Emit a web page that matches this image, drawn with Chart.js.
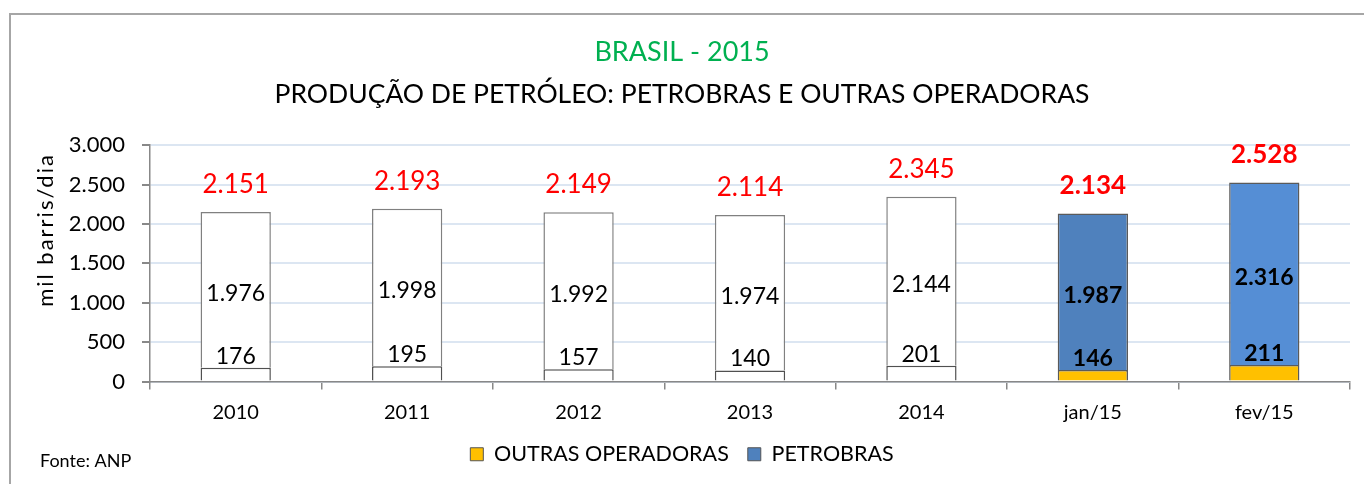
<!DOCTYPE html>
<html>
<head>
<meta charset="utf-8">
<script src="https://cdn.jsdelivr.net/npm/chart.js@4.4.1/dist/chart.umd.min.js"></script>
<style>
  html, body { margin: 0; padding: 0; background: #fff; }
  #wrap { position: relative; width: 1364px; height: 484px; overflow: hidden; }
  #frame { position: absolute; left: 9px; top: 13px; width: 1400px; height: 520px; border: 2px solid #a6a6a6; box-sizing: border-box; }
  canvas { position: absolute; left: 0; top: 0; }
</style>
</head>
<body>
<div id="wrap">
  <div id="frame"></div>
  <canvas id="chart" width="1364" height="484"></canvas>
</div>
<script>
'use strict';

// Data (mil barris/dia)
var categories = ['2010', '2011', '2012', '2013', '2014', 'jan/15', 'fev/15'];
var outras     = [176, 195, 157, 140, 201, 146, 211];
var petrobras  = [1976, 1998, 1992, 1974, 2144, 1987, 2316];
var totals     = [2151, 2193, 2149, 2114, 2345, 2134, 2528];
var yTicks     = [0, 500, 1000, 1500, 2000, 2500, 3000];


// Styles
var FONT = 'Lato';
var firstMonth = 5;   // bars from here on are coloured and labelled in bold
var outrasFill = ['#ffffff', '#ffffff', '#ffffff', '#ffffff', '#ffffff', '#ffc000', '#ffc000'];
var petroFill  = ['#ffffff', '#ffffff', '#ffffff', '#ffffff', '#ffffff', '#4f81bd', '#558ed5'];
var outrasLine = ['#505050', '#505050', '#505050', '#505050', '#505050', '#5a5a5a', '#5a5a5a'];
var petroLine  = ['#808080', '#808080', '#808080', '#808080', '#808080', '#5a5a5a', '#5a5a5a'];
var legendFill = ['#ffc000', '#4f81bd'];


function fmt(n) {
  return String(n).replace(/\B(?=(\d{3})+(?!\d))/g, '.');
}


// Values on and above the bars, source note and axis title
//
var extrasPlugin = {
  id: 'extras',
  afterDatasetsDraw: function(chart) {
    var ctx = chart.ctx;
    var low = chart.getDatasetMeta(0).data;
    var high = chart.getDatasetMeta(1).data;

    ctx.save();
    ctx.textAlign = 'center';
    ctx.textBaseline = 'alphabetic';

    categories.forEach(function(c, i) {
      var bold = i >= firstMonth ? 'bold ' : '';

      ctx.fillStyle = '#000';
      ctx.font = bold + '23px ' + FONT;
      ctx.fillText(fmt(outras[i]), low[i].x, low[i].y - 4);
      ctx.fillText(fmt(petrobras[i]), high[i].x, (high[i].y + high[i].base) / 2 + 11);

      ctx.fillStyle = '#ff0000';
      ctx.font = bold + '26px ' + FONT;
      ctx.fillText(fmt(totals[i]), high[i].x, high[i].y - 19);
    });

    ctx.restore();
  },
  afterDraw: function(chart) {
    var ctx = chart.ctx;
    ctx.save();
    ctx.fillStyle = '#000';
    ctx.font = '18px ' + FONT;
    ctx.textAlign = 'left';
    ctx.textBaseline = 'middle';
    ctx.fillText('Fonte: ANP', 40, 461);

    ctx.translate(46, 230);
    ctx.rotate(-Math.PI / 2);
    ctx.textAlign = 'center';
    ctx.font = '22px ' + FONT;
    ctx.letterSpacing = '2px';
    ctx.fillText('mil barris/dia', 0, 0);
    ctx.restore();
  }
};


new Chart(document.getElementById('chart'), {
  type: 'bar',
  data: {
    labels: categories,
    datasets: [
      {
        label: 'OUTRAS OPERADORAS',
        data: outras,
        backgroundColor: outrasFill,
        borderColor: outrasLine,
        borderWidth: 1.5
      },
      {
        label: 'PETROBRAS',
        data: petrobras,
        backgroundColor: petroFill,
        borderColor: petroLine,
        borderWidth: 1.5
      }
    ]
  },
  options: {
    responsive: false,
    animation: false,
    categoryPercentage: 1,
    barPercentage: 0.41,
    layout: {
      padding: { left: 14, right: 14, top: 0, bottom: 9 }
    },
    plugins: {
      title: {
        display: true,
        text: 'BRASIL - 2015',
        color: '#00b050',
        font: { family: FONT, size: 27, weight: 'normal' },
        padding: { top: 36, bottom: 0 }
      },
      subtitle: {
        display: true,
        text: 'PRODUÇÃO DE PETRÓLEO: PETROBRAS E OUTRAS OPERADORAS',
        color: '#000',
        font: { family: FONT, size: 26.5, weight: 'normal' },
        padding: { top: 10, bottom: 35 }
      },
      legend: {
        position: 'bottom',
        labels: {
          color: '#000',
          font: { family: FONT, size: 21.5 },
          boxWidth: 13,
          boxHeight: 13,
          padding: 19,
          generateLabels: function(chart) {
            return chart.data.datasets.map(function(ds, i) {
              return {
                text: ds.label,
                fillStyle: legendFill[i],
                strokeStyle: '#555',
                lineWidth: 1,
                datasetIndex: i
              };
            });
          }
        }
      },
      tooltip: { enabled: false }
    },
    scales: {
      x: {
        stacked: true,
        afterFit: function(scale) { scale.height = 43; },
        grid: {
          offset: true,
          drawOnChartArea: false,
          drawTicks: true,
          tickLength: 8,
          color: '#888',
          lineWidth: 1.5
        },
        border: { color: '#888', width: 1.5 },
        ticks: {
          color: '#000',
          padding: 11,
          font: { family: FONT, size: 20 }
        }
      },
      y: {
        stacked: true,
        min: yTicks[0],
        max: yTicks[yTicks.length - 1],
        afterFit: function(scale) { scale.width = 136; },
        afterBuildTicks: function(scale) {
          scale.ticks = yTicks.map(function(v) { return { value: v }; });
        },
        grid: {
          color: '#dce6f2',
          lineWidth: 2,
          tickColor: '#888',
          tickLength: 8
        },
        border: { color: '#888', width: 1.5 },
        ticks: {
          color: '#000',
          padding: 17,
          font: { family: FONT, size: 22 },
          callback: function(v) { return fmt(v); }
        }
      }
    }
  },
  plugins: [extrasPlugin]
});
</script>
</body>
</html>
